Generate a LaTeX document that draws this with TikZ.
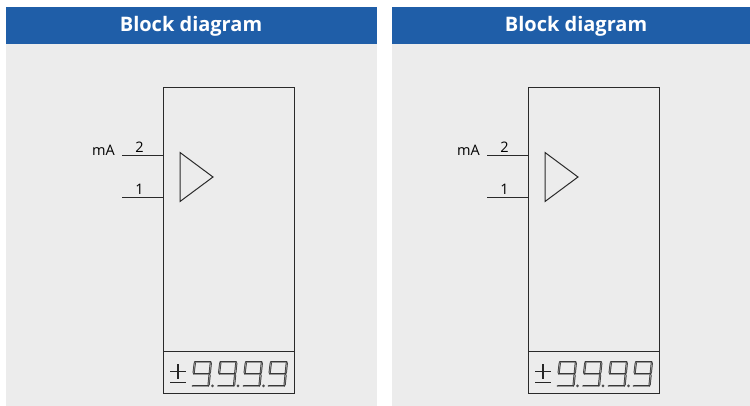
\documentclass[tikz,border=0pt]{standalone}
\usepackage{fontspec}
\setmainfont{Open Sans}
\definecolor{hdr}{HTML}{1F5EA8}
\definecolor{pnl}{HTML}{ECECEC}
\definecolor{ink}{HTML}{2A2A2A}
\tikzset{
  x=1pt,y=-1pt,
  panelbg/.style={fill=pnl,draw=none},
  headbar/.style={fill=hdr,draw=none},
  headtext/.style={text=white,font=\fontsize{20}{24}\selectfont\bfseries,inner sep=0pt},
  blockbox/.style={draw=ink,line width=1pt,fill=none,inner sep=0pt},
  wire/.style={draw=ink,line width=1pt},
  lbl/.style={font=\fontsize{14.5}{17}\selectfont,text=black,inner sep=0pt},
  seg/.style={draw=black!78,line width=2.2pt,line cap=round},
  segin/.style={draw=black!40,line width=0.7pt,line cap=round},
}
\newcommand\sevenseg[1]{%
  \foreach \a/\b/\c/\d in {3/362/18.5/362, 2.8/363/1.6/373, 18.8/363/17.8/373, 2.2/374/17.2/374, 17.6/375/16.6/385, 0.8/386/16/386}{
    \draw[seg] ({#1+\a},\b) -- ({#1+\c},\d);
    \draw[segin] ({#1+\a},\b) -- ({#1+\c},\d);
  }}
\newcommand\bdpanel[5]{% id, panel left, panel right, header centre, x offset
  \fill[panelbg] (#2,7.5) rectangle (#3,406);
  \fill[headbar] (#2,7.5) rectangle (#3,44);
  \node[headtext] (head#1) at (#4,26.5) {Block diagram};
  \begin{scope}[xshift=#5pt]
    \draw[blockbox] (163,87.5) rectangle (294,393);
    \coordinate (in2#1) at (163,155.5);
    \coordinate (in1#1) at (163,198);
    \coordinate (fr2#1) at (122,155.5);
    \coordinate (fr1#1) at (122,198);
    \draw[wire] (fr2#1) -- (in2#1);
    \draw[wire] (fr1#1) -- (in1#1);
    \coordinate (dl#1) at (163,351.5);
    \coordinate (dr#1) at (294,351.5);
    \draw[wire] (dl#1) -- (dr#1);
    \draw[wire,line join=miter] (180,152.5) -- (213,177) -- (180,201.5) -- cycle;
    \node[lbl] (ma#1) at (103.5,150) {mA};
    \node[lbl] (two#1) at (139.5,147) {2};
    \node[lbl] (one#1) at (139.5,189) {1};
    \draw[draw=black!85,line width=1.5pt] (170,371.5) -- (186,371.5) (178,364) -- (178,379) (170,382.5) -- (186,382.5);
    \sevenseg{192}\sevenseg{217.5}\sevenseg{243}\sevenseg{268}
    \fill[black!70] (212.5,385.8) circle (1.5) (238,385.8) circle (1.5) (263.5,385.8) circle (1.5);
  \end{scope}}
\begin{document}
\begin{tikzpicture}
\useasboundingbox (0,0) rectangle (750,406);
\fill[white] (0,0) rectangle (750,406);
\bdpanel{L}{6}{376.5}{191}{0}
\bdpanel{R}{391.5}{750}{576}{365}
\end{tikzpicture}
\end{document}
